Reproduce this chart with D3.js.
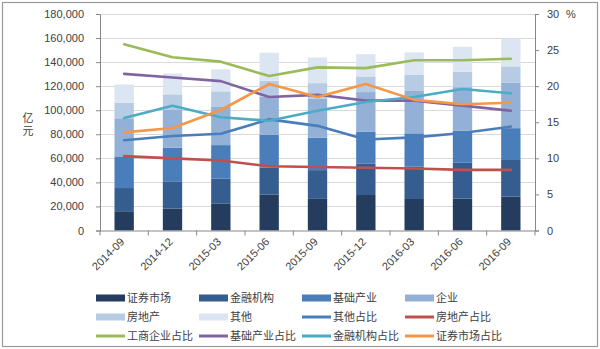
<!DOCTYPE html>
<html><head><meta charset="utf-8">
<script src="https://cdn.jsdelivr.net/npm/d3@7"></script>
<style>
body{margin:0;background:#fff;}
svg{display:block;font-family:"Liberation Sans","Noto Sans CJK SC",sans-serif;}
</style></head>
<body><svg id="c" width="600" height="349"></svg>
<script>
const categories = ["2014-09","2014-12","2015-03","2015-06","2015-09","2015-12","2016-03","2016-06","2016-09"];
// stacked bar series (亿元)
const securities  = [16000,18300,22200,30000,26300,29500,26200,26500,28200]; // 证券市场
const financial   = [19300,22600,21000,22400,23900,26300,26800,29800,30400]; // 金融机构
const infra       = [26300,28000,27800,27300,27000,26200,27800,26800,26500]; // 基础产业
const enterprise  = [31700,31300,31700,31600,32600,33100,35200,36100,38000]; // 企业
const realEstate  = [12800,13000,13000,13200,12700,13000,13300,12800,13400]; // 房地产
const others      = [15300,17300,18300,23300,21300,18500,18800,20700,23100]; // 其他
// share lines (%)
const othersPct     = [12.5,13.1,13.4,15.4,14.5,12.6,12.9,13.5,14.4]; // 其他占比
const realEstatePct = [10.3,10.0,9.7,8.9,8.8,8.7,8.6,8.4,8.4];        // 房地产占比
const enterprisePct = [25.8,24.0,23.4,21.4,22.6,22.5,23.6,23.6,23.8]; // 工商企业占比
const infraPct      = [21.7,21.2,20.7,18.5,18.8,18.0,18.0,17.3,16.6]; // 基础产业占比
const financialPct  = [15.6,17.3,15.7,15.2,16.6,17.8,18.5,19.6,19.0]; // 金融机构占比
const securitiesPct = [13.6,14.2,16.7,20.3,18.5,20.3,18.1,17.5,17.7]; // 证券市场占比
const leftTicks = [0,20000,40000,60000,80000,100000,120000,140000,160000,180000];
const rightTicks = [0,5,10,15,20,25,30];

const barSeries = [
  {name:"证券市场", values:securities, color:"#243d5f"},
  {name:"金融机构", values:financial, color:"#365d8f"},
  {name:"基础产业", values:infra, color:"#4a7ebb"},
  {name:"企业", values:enterprise, color:"#93b1d7"},
  {name:"房地产", values:realEstate, color:"#b7cbe4"},
  {name:"其他", values:others, color:"#dce6f2"}
];
const lineSeries = [
  {name:"其他占比", values:othersPct, color:"#4a7ebb"},
  {name:"房地产占比", values:realEstatePct, color:"#c0504d"},
  {name:"工商企业占比", values:enterprisePct, color:"#9bbb59"},
  {name:"基础产业占比", values:infraPct, color:"#8064a2"},
  {name:"金融机构占比", values:financialPct, color:"#4bacc6"},
  {name:"证券市场占比", values:securitiesPct, color:"#f79646"}
];

const svg = d3.select("#c");
const L=100, R=535, T=14, B=230.5;
const textColor="#404040", axisColor="#888";

svg.append("rect").attr("x",2.5).attr("y",2.5).attr("width",595).attr("height",344)
  .attr("fill","#fff").attr("stroke","#9a9a9a").attr("stroke-width",1.2);

const x = d3.scaleBand().domain(categories).range([L,R]).paddingInner(0.6).paddingOuter(0.3);
const y = d3.scaleLinear().domain([0,180000]).range([B,T]);
const y2 = d3.scaleLinear().domain([0,30]).range([B,T]);

// gridlines
svg.append("g").selectAll("line").data(leftTicks.slice(1)).join("line")
  .attr("x1",L).attr("x2",R).attr("y1",d=>Math.round(y(d))+0.5).attr("y2",d=>Math.round(y(d))+0.5)
  .attr("stroke","#d9d9d9").attr("stroke-width",1);

// stacked bars
const table = categories.map((c,i)=>{const o={cat:c}; barSeries.forEach(s=>o[s.name]=s.values[i]); return o;});
const stack = d3.stack().keys(barSeries.map(s=>s.name))(table);
svg.append("g").selectAll("g").data(stack).join("g")
  .attr("fill",(d,i)=>barSeries[i].color)
  .selectAll("rect").data(d=>d).join("rect")
  .attr("x",d=>x(d.data.cat)).attr("width",x.bandwidth())
  .attr("y",d=>y(d[1])).attr("height",d=>y(d[0])-y(d[1]));

// lines
const line = d3.line().x((d,i)=>x(categories[i])+x.bandwidth()/2).y(d=>y2(d));
svg.append("g").selectAll("path").data(lineSeries).join("path")
  .attr("d",d=>line(d.values)).attr("fill","none")
  .attr("stroke",d=>d.color).attr("stroke-width",2.6).attr("stroke-linejoin","round").attr("stroke-linecap","round");

// axes
const fmt = d3.format(",");
const ax = svg.append("g").attr("transform",`translate(${L},0)`)
  .call(d3.axisLeft(y).tickValues(leftTicks).tickFormat(fmt).tickSize(4).tickPadding(12));
const ax2 = svg.append("g").attr("transform",`translate(${R},0)`)
  .call(d3.axisRight(y2).tickValues(rightTicks).tickSize(4).tickPadding(8));
[ax,ax2].forEach(a=>{
  a.select(".domain").attr("stroke",axisColor);
  a.selectAll(".tick line").attr("stroke",axisColor);
  a.selectAll("text").attr("fill",textColor).attr("font-size",11);
});
// x axis
const xg = svg.append("g");
xg.append("line").attr("x1",L).attr("x2",R).attr("y1",B+0.5).attr("y2",B+0.5).attr("stroke",axisColor);
const step = x.step();
xg.selectAll("line.t").data(d3.range(categories.length+1)).join("line").attr("class","t")
  .attr("x1",i=>L+i*step).attr("x2",i=>L+i*step).attr("y1",B).attr("y2",B+5).attr("stroke",axisColor);
xg.selectAll("text").data(categories).join("text")
  .attr("transform",d=>`translate(${x(d)+x.bandwidth()/2+1},${B+12}) rotate(-45)`)
  .attr("text-anchor","end").attr("font-size",11).attr("fill",textColor).text(d=>d);

// axis titles
svg.append("text").attr("x",28).attr("y",122).attr("text-anchor","middle").attr("font-size",11).attr("fill",textColor).text("亿");
svg.append("text").attr("x",28).attr("y",135).attr("text-anchor","middle").attr("font-size",11).attr("fill",textColor).text("元");
svg.append("text").attr("x",566).attr("y",18).attr("font-size",11).attr("fill",textColor).text("%");

// legend
const legendItems = barSeries.map(s=>({name:s.name,color:s.color,type:"bar"}))
  .concat(lineSeries.map(s=>({name:s.name,color:s.color,type:"line"})));
const colX=[96,199,302,405], rowY=[298,317,336];
const lg = svg.append("g").selectAll("g").data(legendItems).join("g")
  .attr("transform",(d,i)=>`translate(${colX[i%4]},${rowY[Math.floor(i/4)]})`);
lg.append("rect").attr("x",0).attr("width",29)
  .attr("y",d=>d.type==="bar"?-3.5:-1.5).attr("height",d=>d.type==="bar"?7:3)
  .attr("fill",d=>d.color);
lg.append("text").attr("x",31).attr("y",4).attr("font-size",11).attr("fill",textColor).text(d=>d.name);
</script></body></html>
